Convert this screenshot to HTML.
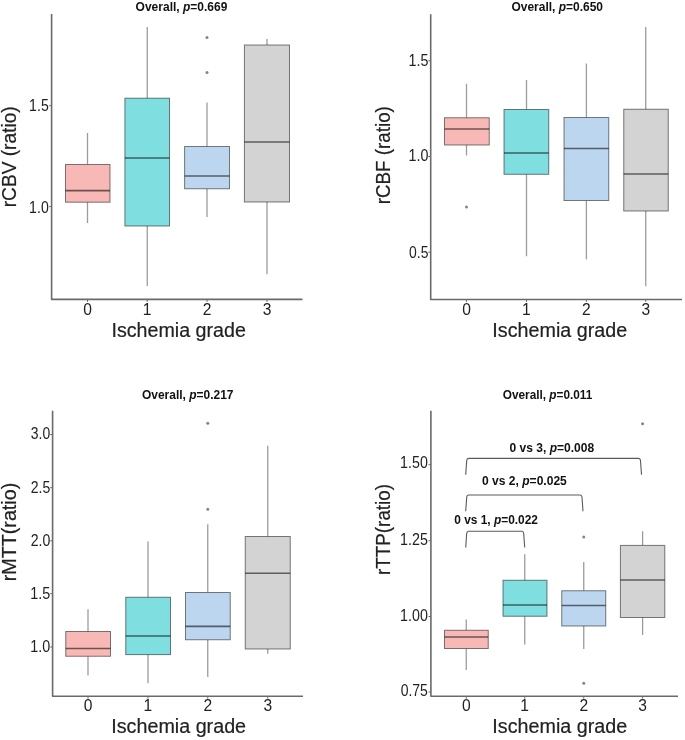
<!DOCTYPE html>
<html><head><meta charset="utf-8"><title>Boxplots</title>
<style>html,body{margin:0;padding:0;background:#fff;}body{width:685px;height:740px;overflow:hidden;font-family:"Liberation Sans",sans-serif;}svg{display:block;will-change:transform;filter:blur(0.35px);}</style>
</head><body>
<svg width="685" height="740" viewBox="0 0 685 740" font-family="Liberation Sans, sans-serif">
<rect width="685" height="740" fill="#fff"/>
<path d="M51.6 13.9 V299.4 H302.5" fill="none" stroke="#6a6a6a" stroke-width="1.6" stroke-linejoin="round"/>
<line x1="49.2" y1="105.7" x2="51.6" y2="105.7" stroke="#6a6a6a" stroke-width="1"/>
<text id="p1y0" x="29.12" y="110.7" font-size="15.6" font-weight="normal" fill="#222" textLength="19.67" lengthAdjust="spacingAndGlyphs">1.5</text>
<line x1="49.2" y1="206.6" x2="51.6" y2="206.6" stroke="#6a6a6a" stroke-width="1"/>
<text id="p1y1" x="29.12" y="212.5" font-size="15.6" font-weight="normal" fill="#222" textLength="19.63" lengthAdjust="spacingAndGlyphs">1.0</text>
<line x1="87.5" y1="133" x2="87.5" y2="164.5" stroke="#9c9c9c" stroke-width="1.3"/>
<line x1="87.5" y1="202.2" x2="87.5" y2="223" stroke="#9c9c9c" stroke-width="1.3"/>
<rect x="65.5" y="164.5" width="44.50" height="37.70" fill="#f8b8b5" stroke="rgba(0,0,0,0.5)" stroke-width="1.0"/>
<line x1="65.5" y1="190.6" x2="110" y2="190.6" stroke="rgba(0,0,0,0.56)" stroke-width="1.6"/>
<line x1="147.25" y1="27" x2="147.25" y2="98.2" stroke="#9c9c9c" stroke-width="1.3"/>
<line x1="147.25" y1="226" x2="147.25" y2="286" stroke="#9c9c9c" stroke-width="1.3"/>
<rect x="124.9" y="98.2" width="44.60" height="127.80" fill="#7fdee0" stroke="rgba(0,0,0,0.5)" stroke-width="1.0"/>
<line x1="124.9" y1="158" x2="169.5" y2="158" stroke="rgba(0,0,0,0.56)" stroke-width="1.6"/>
<line x1="207" y1="102.5" x2="207" y2="146.5" stroke="#9c9c9c" stroke-width="1.3"/>
<line x1="207" y1="188.75" x2="207" y2="217" stroke="#9c9c9c" stroke-width="1.3"/>
<rect x="184.6" y="146.5" width="44.90" height="42.25" fill="#bdd6f0" stroke="rgba(0,0,0,0.5)" stroke-width="1.0"/>
<line x1="184.6" y1="176" x2="229.5" y2="176" stroke="rgba(0,0,0,0.56)" stroke-width="1.6"/>
<circle cx="207" cy="37.5" r="1.5" fill="#858585"/>
<circle cx="207" cy="72.5" r="1.5" fill="#858585"/>
<line x1="267" y1="39" x2="267" y2="45" stroke="#9c9c9c" stroke-width="1.3"/>
<line x1="267" y1="202" x2="267" y2="274.25" stroke="#9c9c9c" stroke-width="1.3"/>
<rect x="244.4" y="45" width="45.10" height="157.00" fill="#d3d3d3" stroke="rgba(0,0,0,0.5)" stroke-width="1.0"/>
<line x1="244.4" y1="142" x2="289.5" y2="142" stroke="rgba(0,0,0,0.56)" stroke-width="1.6"/>
<line x1="87.5" y1="299.5" x2="87.5" y2="301.9" stroke="#6a6a6a" stroke-width="1"/>
<text id="p1x0" x="83.16" y="314.75" font-size="15.6" font-weight="normal" fill="#222">0</text>
<line x1="147.25" y1="299.5" x2="147.25" y2="301.9" stroke="#6a6a6a" stroke-width="1"/>
<text id="p1x1" x="142.69" y="314.75" font-size="15.6" font-weight="normal" fill="#222">1</text>
<line x1="207" y1="299.5" x2="207" y2="301.9" stroke="#6a6a6a" stroke-width="1"/>
<text id="p1x2" x="202.66" y="314.75" font-size="15.6" font-weight="normal" fill="#222">2</text>
<line x1="267" y1="299.5" x2="267" y2="301.9" stroke="#6a6a6a" stroke-width="1"/>
<text id="p1x3" x="262.70" y="314.75" font-size="15.6" font-weight="normal" fill="#222">3</text>
<text id="p1xl" x="111.49" y="336.6" font-size="19.6" font-weight="normal" fill="#222" stroke="#222" stroke-width="0.2" textLength="134.39" lengthAdjust="spacingAndGlyphs">Ischemia grade</text>
<text id="p1yl" x="16.3" y="207.27" font-size="19.6" font-weight="normal" fill="#222" stroke="#222" stroke-width="0.2" textLength="100.96" lengthAdjust="spacingAndGlyphs" transform="rotate(-90 16.3 207.27)">rCBV (ratio)</text>
<text id="p1t" x="135.61" y="10.55" font-size="12.5" font-weight="bold" fill="#111" textLength="91.74" lengthAdjust="spacingAndGlyphs">Overall, <tspan font-style="italic">p</tspan>=0.669</text>
<path d="M430.7 14.25 V299.5 H682" fill="none" stroke="#6a6a6a" stroke-width="1.6" stroke-linejoin="round"/>
<line x1="428.3" y1="60.7" x2="430.7" y2="60.7" stroke="#6a6a6a" stroke-width="1"/>
<text id="p2y0" x="408.51" y="65.7" font-size="15.6" font-weight="normal" fill="#222" textLength="19.89" lengthAdjust="spacingAndGlyphs">1.5</text>
<line x1="428.3" y1="156.5" x2="430.7" y2="156.5" stroke="#6a6a6a" stroke-width="1"/>
<text id="p2y1" x="408.51" y="161.2" font-size="15.6" font-weight="normal" fill="#222" textLength="19.84" lengthAdjust="spacingAndGlyphs">1.0</text>
<line x1="428.3" y1="252.2" x2="430.7" y2="252.2" stroke="#6a6a6a" stroke-width="1"/>
<text id="p2y2" x="409.06" y="257.9" font-size="15.6" font-weight="normal" fill="#222" textLength="19.33" lengthAdjust="spacingAndGlyphs">0.5</text>
<line x1="466.5" y1="83.75" x2="466.5" y2="117.75" stroke="#9c9c9c" stroke-width="1.3"/>
<line x1="466.5" y1="145" x2="466.5" y2="155.5" stroke="#9c9c9c" stroke-width="1.3"/>
<rect x="444.5" y="117.75" width="44.75" height="27.25" fill="#f8b8b5" stroke="rgba(0,0,0,0.5)" stroke-width="1.0"/>
<line x1="444.5" y1="129" x2="489.25" y2="129" stroke="rgba(0,0,0,0.56)" stroke-width="1.6"/>
<circle cx="466.5" cy="207" r="1.5" fill="#858585"/>
<line x1="526.5" y1="80" x2="526.5" y2="109.5" stroke="#9c9c9c" stroke-width="1.3"/>
<line x1="526.5" y1="174.3" x2="526.5" y2="256.25" stroke="#9c9c9c" stroke-width="1.3"/>
<rect x="504" y="109.5" width="44.75" height="64.80" fill="#7fdee0" stroke="rgba(0,0,0,0.5)" stroke-width="1.0"/>
<line x1="504" y1="153" x2="548.75" y2="153" stroke="rgba(0,0,0,0.56)" stroke-width="1.6"/>
<line x1="586.4" y1="63.5" x2="586.4" y2="117.5" stroke="#9c9c9c" stroke-width="1.3"/>
<line x1="586.4" y1="200.5" x2="586.4" y2="259.4" stroke="#9c9c9c" stroke-width="1.3"/>
<rect x="564" y="117.5" width="44.75" height="83.00" fill="#bdd6f0" stroke="rgba(0,0,0,0.5)" stroke-width="1.0"/>
<line x1="564" y1="148.5" x2="608.75" y2="148.5" stroke="rgba(0,0,0,0.56)" stroke-width="1.6"/>
<line x1="645.75" y1="27" x2="645.75" y2="109.25" stroke="#9c9c9c" stroke-width="1.3"/>
<line x1="645.75" y1="211" x2="645.75" y2="286.25" stroke="#9c9c9c" stroke-width="1.3"/>
<rect x="623.75" y="109.25" width="44.50" height="101.75" fill="#d3d3d3" stroke="rgba(0,0,0,0.5)" stroke-width="1.0"/>
<line x1="623.75" y1="174" x2="668.25" y2="174" stroke="rgba(0,0,0,0.56)" stroke-width="1.6"/>
<line x1="466.5" y1="299.5" x2="466.5" y2="301.9" stroke="#6a6a6a" stroke-width="1"/>
<text id="p2x0" x="462.16" y="315.0" font-size="15.6" font-weight="normal" fill="#222">0</text>
<line x1="526.5" y1="299.5" x2="526.5" y2="301.9" stroke="#6a6a6a" stroke-width="1"/>
<text id="p2x1" x="521.94" y="315.0" font-size="15.6" font-weight="normal" fill="#222">1</text>
<line x1="586.4" y1="299.5" x2="586.4" y2="301.9" stroke="#6a6a6a" stroke-width="1"/>
<text id="p2x2" x="582.06" y="315.0" font-size="15.6" font-weight="normal" fill="#222">2</text>
<line x1="645.75" y1="299.5" x2="645.75" y2="301.9" stroke="#6a6a6a" stroke-width="1"/>
<text id="p2x3" x="641.45" y="315.0" font-size="15.6" font-weight="normal" fill="#222">3</text>
<text id="p2xl" x="492.38" y="336.6" font-size="19.6" font-weight="normal" fill="#222" stroke="#222" stroke-width="0.2" textLength="134.80" lengthAdjust="spacingAndGlyphs">Ischemia grade</text>
<text id="p2yl" x="389.8" y="204.25" font-size="19.6" font-weight="normal" fill="#222" stroke="#222" stroke-width="0.2" textLength="98.11" lengthAdjust="spacingAndGlyphs" transform="rotate(-90 389.8 204.25)">rCBF (ratio)</text>
<text id="p2t" x="511.51" y="10.55" font-size="12.5" font-weight="bold" fill="#111" textLength="91.48" lengthAdjust="spacingAndGlyphs">Overall, <tspan font-style="italic">p</tspan>=0.650</text>
<path d="M52.6 410.75 V696.25 H303" fill="none" stroke="#6a6a6a" stroke-width="1.6" stroke-linejoin="round"/>
<line x1="50.2" y1="434.5" x2="52.6" y2="434.5" stroke="#6a6a6a" stroke-width="1"/>
<text id="p3y0" x="30.87" y="438.8" font-size="15.6" font-weight="normal" fill="#222" textLength="19.38" lengthAdjust="spacingAndGlyphs">3.0</text>
<line x1="50.2" y1="487.7" x2="52.6" y2="487.7" stroke="#6a6a6a" stroke-width="1"/>
<text id="p3y1" x="30.69" y="493.1" font-size="15.6" font-weight="normal" fill="#222" textLength="19.60" lengthAdjust="spacingAndGlyphs">2.5</text>
<line x1="50.2" y1="540.8" x2="52.6" y2="540.8" stroke="#6a6a6a" stroke-width="1"/>
<text id="p3y2" x="30.69" y="546.3" font-size="15.6" font-weight="normal" fill="#222" textLength="19.56" lengthAdjust="spacingAndGlyphs">2.0</text>
<line x1="50.2" y1="593.6" x2="52.6" y2="593.6" stroke="#6a6a6a" stroke-width="1"/>
<text id="p3y3" x="30.30" y="598.6" font-size="15.6" font-weight="normal" fill="#222" textLength="20.00" lengthAdjust="spacingAndGlyphs">1.5</text>
<line x1="50.2" y1="647.0" x2="52.6" y2="647.0" stroke="#6a6a6a" stroke-width="1"/>
<text id="p3y4" x="30.31" y="651.6" font-size="15.6" font-weight="normal" fill="#222" textLength="19.95" lengthAdjust="spacingAndGlyphs">1.0</text>
<line x1="88" y1="609.25" x2="88" y2="631.5" stroke="#9c9c9c" stroke-width="1.3"/>
<line x1="88" y1="656.25" x2="88" y2="675.5" stroke="#9c9c9c" stroke-width="1.3"/>
<rect x="65.75" y="631.5" width="44.75" height="24.75" fill="#f8b8b5" stroke="rgba(0,0,0,0.5)" stroke-width="1.0"/>
<line x1="65.75" y1="648.5" x2="110.5" y2="648.5" stroke="rgba(0,0,0,0.56)" stroke-width="1.6"/>
<line x1="148" y1="541.5" x2="148" y2="597.25" stroke="#9c9c9c" stroke-width="1.3"/>
<line x1="148" y1="654.6" x2="148" y2="683.25" stroke="#9c9c9c" stroke-width="1.3"/>
<rect x="125.75" y="597.25" width="44.75" height="57.35" fill="#7fdee0" stroke="rgba(0,0,0,0.5)" stroke-width="1.0"/>
<line x1="125.75" y1="636" x2="170.5" y2="636" stroke="rgba(0,0,0,0.56)" stroke-width="1.6"/>
<line x1="207.75" y1="524.2" x2="207.75" y2="592.5" stroke="#9c9c9c" stroke-width="1.3"/>
<line x1="207.75" y1="639.75" x2="207.75" y2="677" stroke="#9c9c9c" stroke-width="1.3"/>
<rect x="185.5" y="592.5" width="44.75" height="47.25" fill="#bdd6f0" stroke="rgba(0,0,0,0.5)" stroke-width="1.0"/>
<line x1="185.5" y1="626.4" x2="230.25" y2="626.4" stroke="rgba(0,0,0,0.56)" stroke-width="1.6"/>
<circle cx="207.75" cy="423.25" r="1.5" fill="#858585"/>
<circle cx="207.75" cy="509.25" r="1.5" fill="#858585"/>
<line x1="267.75" y1="445.75" x2="267.75" y2="536.5" stroke="#9c9c9c" stroke-width="1.3"/>
<line x1="267.75" y1="649" x2="267.75" y2="653.75" stroke="#9c9c9c" stroke-width="1.3"/>
<rect x="245.25" y="536.5" width="45.00" height="112.50" fill="#d3d3d3" stroke="rgba(0,0,0,0.5)" stroke-width="1.0"/>
<line x1="245.25" y1="573.25" x2="290.25" y2="573.25" stroke="rgba(0,0,0,0.56)" stroke-width="1.6"/>
<line x1="88" y1="696.25" x2="88" y2="698.65" stroke="#6a6a6a" stroke-width="1"/>
<text id="p3x0" x="83.66" y="711.0" font-size="15.6" font-weight="normal" fill="#222">0</text>
<line x1="148" y1="696.25" x2="148" y2="698.65" stroke="#6a6a6a" stroke-width="1"/>
<text id="p3x1" x="143.44" y="711.0" font-size="15.6" font-weight="normal" fill="#222">1</text>
<line x1="207.75" y1="696.25" x2="207.75" y2="698.65" stroke="#6a6a6a" stroke-width="1"/>
<text id="p3x2" x="203.41" y="711.0" font-size="15.6" font-weight="normal" fill="#222">2</text>
<line x1="267.75" y1="696.25" x2="267.75" y2="698.65" stroke="#6a6a6a" stroke-width="1"/>
<text id="p3x3" x="263.45" y="711.0" font-size="15.6" font-weight="normal" fill="#222">3</text>
<text id="p3xl" x="111.28" y="732.6" font-size="19.6" font-weight="normal" fill="#222" stroke="#222" stroke-width="0.2" textLength="134.80" lengthAdjust="spacingAndGlyphs">Ischemia grade</text>
<text id="p3yl" x="16.4" y="581.21" font-size="19.6" font-weight="normal" fill="#222" stroke="#222" stroke-width="0.2" textLength="98.43" lengthAdjust="spacingAndGlyphs" transform="rotate(-90 16.4 581.21)">rMTT(ratio)</text>
<text id="p3t" x="142.01" y="399.1" font-size="12.5" font-weight="bold" fill="#111" textLength="91.52" lengthAdjust="spacingAndGlyphs">Overall, <tspan font-style="italic">p</tspan>=0.217</text>
<path d="M430.9 410.75 V696.25 H678" fill="none" stroke="#6a6a6a" stroke-width="1.6" stroke-linejoin="round"/>
<line x1="428.5" y1="464.7" x2="430.9" y2="464.7" stroke="#6a6a6a" stroke-width="1"/>
<text id="p4y0" x="400.11" y="468.2" font-size="15.6" font-weight="normal" fill="#222" textLength="27.74" lengthAdjust="spacingAndGlyphs">1.50</text>
<line x1="428.5" y1="540.7" x2="430.9" y2="540.7" stroke="#6a6a6a" stroke-width="1"/>
<text id="p4y1" x="400.11" y="545.4" font-size="15.6" font-weight="normal" fill="#222" textLength="27.79" lengthAdjust="spacingAndGlyphs">1.25</text>
<line x1="428.5" y1="616.5" x2="430.9" y2="616.5" stroke="#6a6a6a" stroke-width="1"/>
<text id="p4y2" x="400.11" y="621.0" font-size="15.6" font-weight="normal" fill="#222" textLength="27.74" lengthAdjust="spacingAndGlyphs">1.00</text>
<line x1="428.5" y1="692.0" x2="430.9" y2="692.0" stroke="#6a6a6a" stroke-width="1"/>
<text id="p4y3" x="400.65" y="695.6" font-size="15.6" font-weight="normal" fill="#222" textLength="27.23" lengthAdjust="spacingAndGlyphs">0.75</text>
<path d="M465.7 547.5 L466.70 533.40 Q466.90 531.2 468.50 531.2 H521.90 Q523.50 531.2 523.70 533.40 L524.7 547.5" fill="none" stroke="#5a5a5a" stroke-width="1.1"/>
<path d="M465.7 511.2 L466.70 497.20 Q466.90 495.0 468.50 495.0 H580.20 Q581.80 495.0 582.00 497.20 L583.0 511.2" fill="none" stroke="#5a5a5a" stroke-width="1.1"/>
<path d="M465.7 474.8 L466.70 460.60 Q466.90 458.4 468.50 458.4 H638.70 Q640.30 458.4 640.50 460.60 L641.5 474.8" fill="none" stroke="#5a5a5a" stroke-width="1.1"/>
<text id="p4v1" x="454.23" y="523.85" font-size="12.0" font-weight="bold" fill="#111" textLength="83.75" lengthAdjust="spacingAndGlyphs">0 vs 1, <tspan font-style="italic">p</tspan>=0.022</text>
<text id="p4v2" x="482.02" y="485.0" font-size="12.0" font-weight="bold" fill="#111" textLength="84.81" lengthAdjust="spacingAndGlyphs">0 vs 2, <tspan font-style="italic">p</tspan>=0.025</text>
<text id="p4v3" x="509.52" y="451.85" font-size="12.0" font-weight="bold" fill="#111" textLength="84.60" lengthAdjust="spacingAndGlyphs">0 vs 3, <tspan font-style="italic">p</tspan>=0.008</text>
<line x1="466.25" y1="619.5" x2="466.25" y2="630.25" stroke="#9c9c9c" stroke-width="1.3"/>
<line x1="466.25" y1="648.5" x2="466.25" y2="670" stroke="#9c9c9c" stroke-width="1.3"/>
<rect x="444.5" y="630.25" width="43.75" height="18.25" fill="#f8b8b5" stroke="rgba(0,0,0,0.5)" stroke-width="1.0"/>
<line x1="444.5" y1="637" x2="488.25" y2="637" stroke="rgba(0,0,0,0.56)" stroke-width="1.6"/>
<line x1="524.75" y1="554.25" x2="524.75" y2="580.25" stroke="#9c9c9c" stroke-width="1.3"/>
<line x1="524.75" y1="616.25" x2="524.75" y2="644.5" stroke="#9c9c9c" stroke-width="1.3"/>
<rect x="503" y="580.25" width="44.00" height="36.00" fill="#7fdee0" stroke="rgba(0,0,0,0.5)" stroke-width="1.0"/>
<line x1="503" y1="605" x2="547" y2="605" stroke="rgba(0,0,0,0.56)" stroke-width="1.6"/>
<line x1="583.75" y1="562" x2="583.75" y2="590.75" stroke="#9c9c9c" stroke-width="1.3"/>
<line x1="583.75" y1="626" x2="583.75" y2="649" stroke="#9c9c9c" stroke-width="1.3"/>
<rect x="561.75" y="590.75" width="44.00" height="35.25" fill="#bdd6f0" stroke="rgba(0,0,0,0.5)" stroke-width="1.0"/>
<line x1="561.75" y1="605.5" x2="605.75" y2="605.5" stroke="rgba(0,0,0,0.56)" stroke-width="1.6"/>
<circle cx="583.75" cy="537" r="1.5" fill="#858585"/>
<circle cx="583.75" cy="683.25" r="1.5" fill="#858585"/>
<line x1="642.6" y1="531.25" x2="642.6" y2="545.4" stroke="#9c9c9c" stroke-width="1.3"/>
<line x1="642.6" y1="617.5" x2="642.6" y2="635" stroke="#9c9c9c" stroke-width="1.3"/>
<rect x="620.4" y="545.4" width="44.40" height="72.10" fill="#d3d3d3" stroke="rgba(0,0,0,0.5)" stroke-width="1.0"/>
<line x1="620.4" y1="580" x2="664.8" y2="580" stroke="rgba(0,0,0,0.56)" stroke-width="1.6"/>
<circle cx="642.6" cy="423.75" r="1.5" fill="#858585"/>
<line x1="466.25" y1="696.25" x2="466.25" y2="698.65" stroke="#6a6a6a" stroke-width="1"/>
<text id="p4x0" x="461.91" y="710.7" font-size="15.6" font-weight="normal" fill="#222">0</text>
<line x1="524.75" y1="696.25" x2="524.75" y2="698.65" stroke="#6a6a6a" stroke-width="1"/>
<text id="p4x1" x="520.19" y="710.7" font-size="15.6" font-weight="normal" fill="#222">1</text>
<line x1="583.75" y1="696.25" x2="583.75" y2="698.65" stroke="#6a6a6a" stroke-width="1"/>
<text id="p4x2" x="579.41" y="710.7" font-size="15.6" font-weight="normal" fill="#222">2</text>
<line x1="642.6" y1="696.25" x2="642.6" y2="698.65" stroke="#6a6a6a" stroke-width="1"/>
<text id="p4x3" x="638.30" y="710.7" font-size="15.6" font-weight="normal" fill="#222">3</text>
<text id="p4xl" x="492.38" y="732.6" font-size="19.6" font-weight="normal" fill="#222" stroke="#222" stroke-width="0.2" textLength="134.80" lengthAdjust="spacingAndGlyphs">Ischemia grade</text>
<text id="p4yl" x="389.6" y="575.05" font-size="19.6" font-weight="normal" fill="#222" stroke="#222" stroke-width="0.2" textLength="91.12" lengthAdjust="spacingAndGlyphs" transform="rotate(-90 389.6 575.05)">rTTP(ratio)</text>
<text id="p4t" x="502.82" y="399.1" font-size="12.5" font-weight="bold" fill="#111" textLength="89.51" lengthAdjust="spacingAndGlyphs">Overall, <tspan font-style="italic">p</tspan>=0.011</text>
</svg>
</body></html>
